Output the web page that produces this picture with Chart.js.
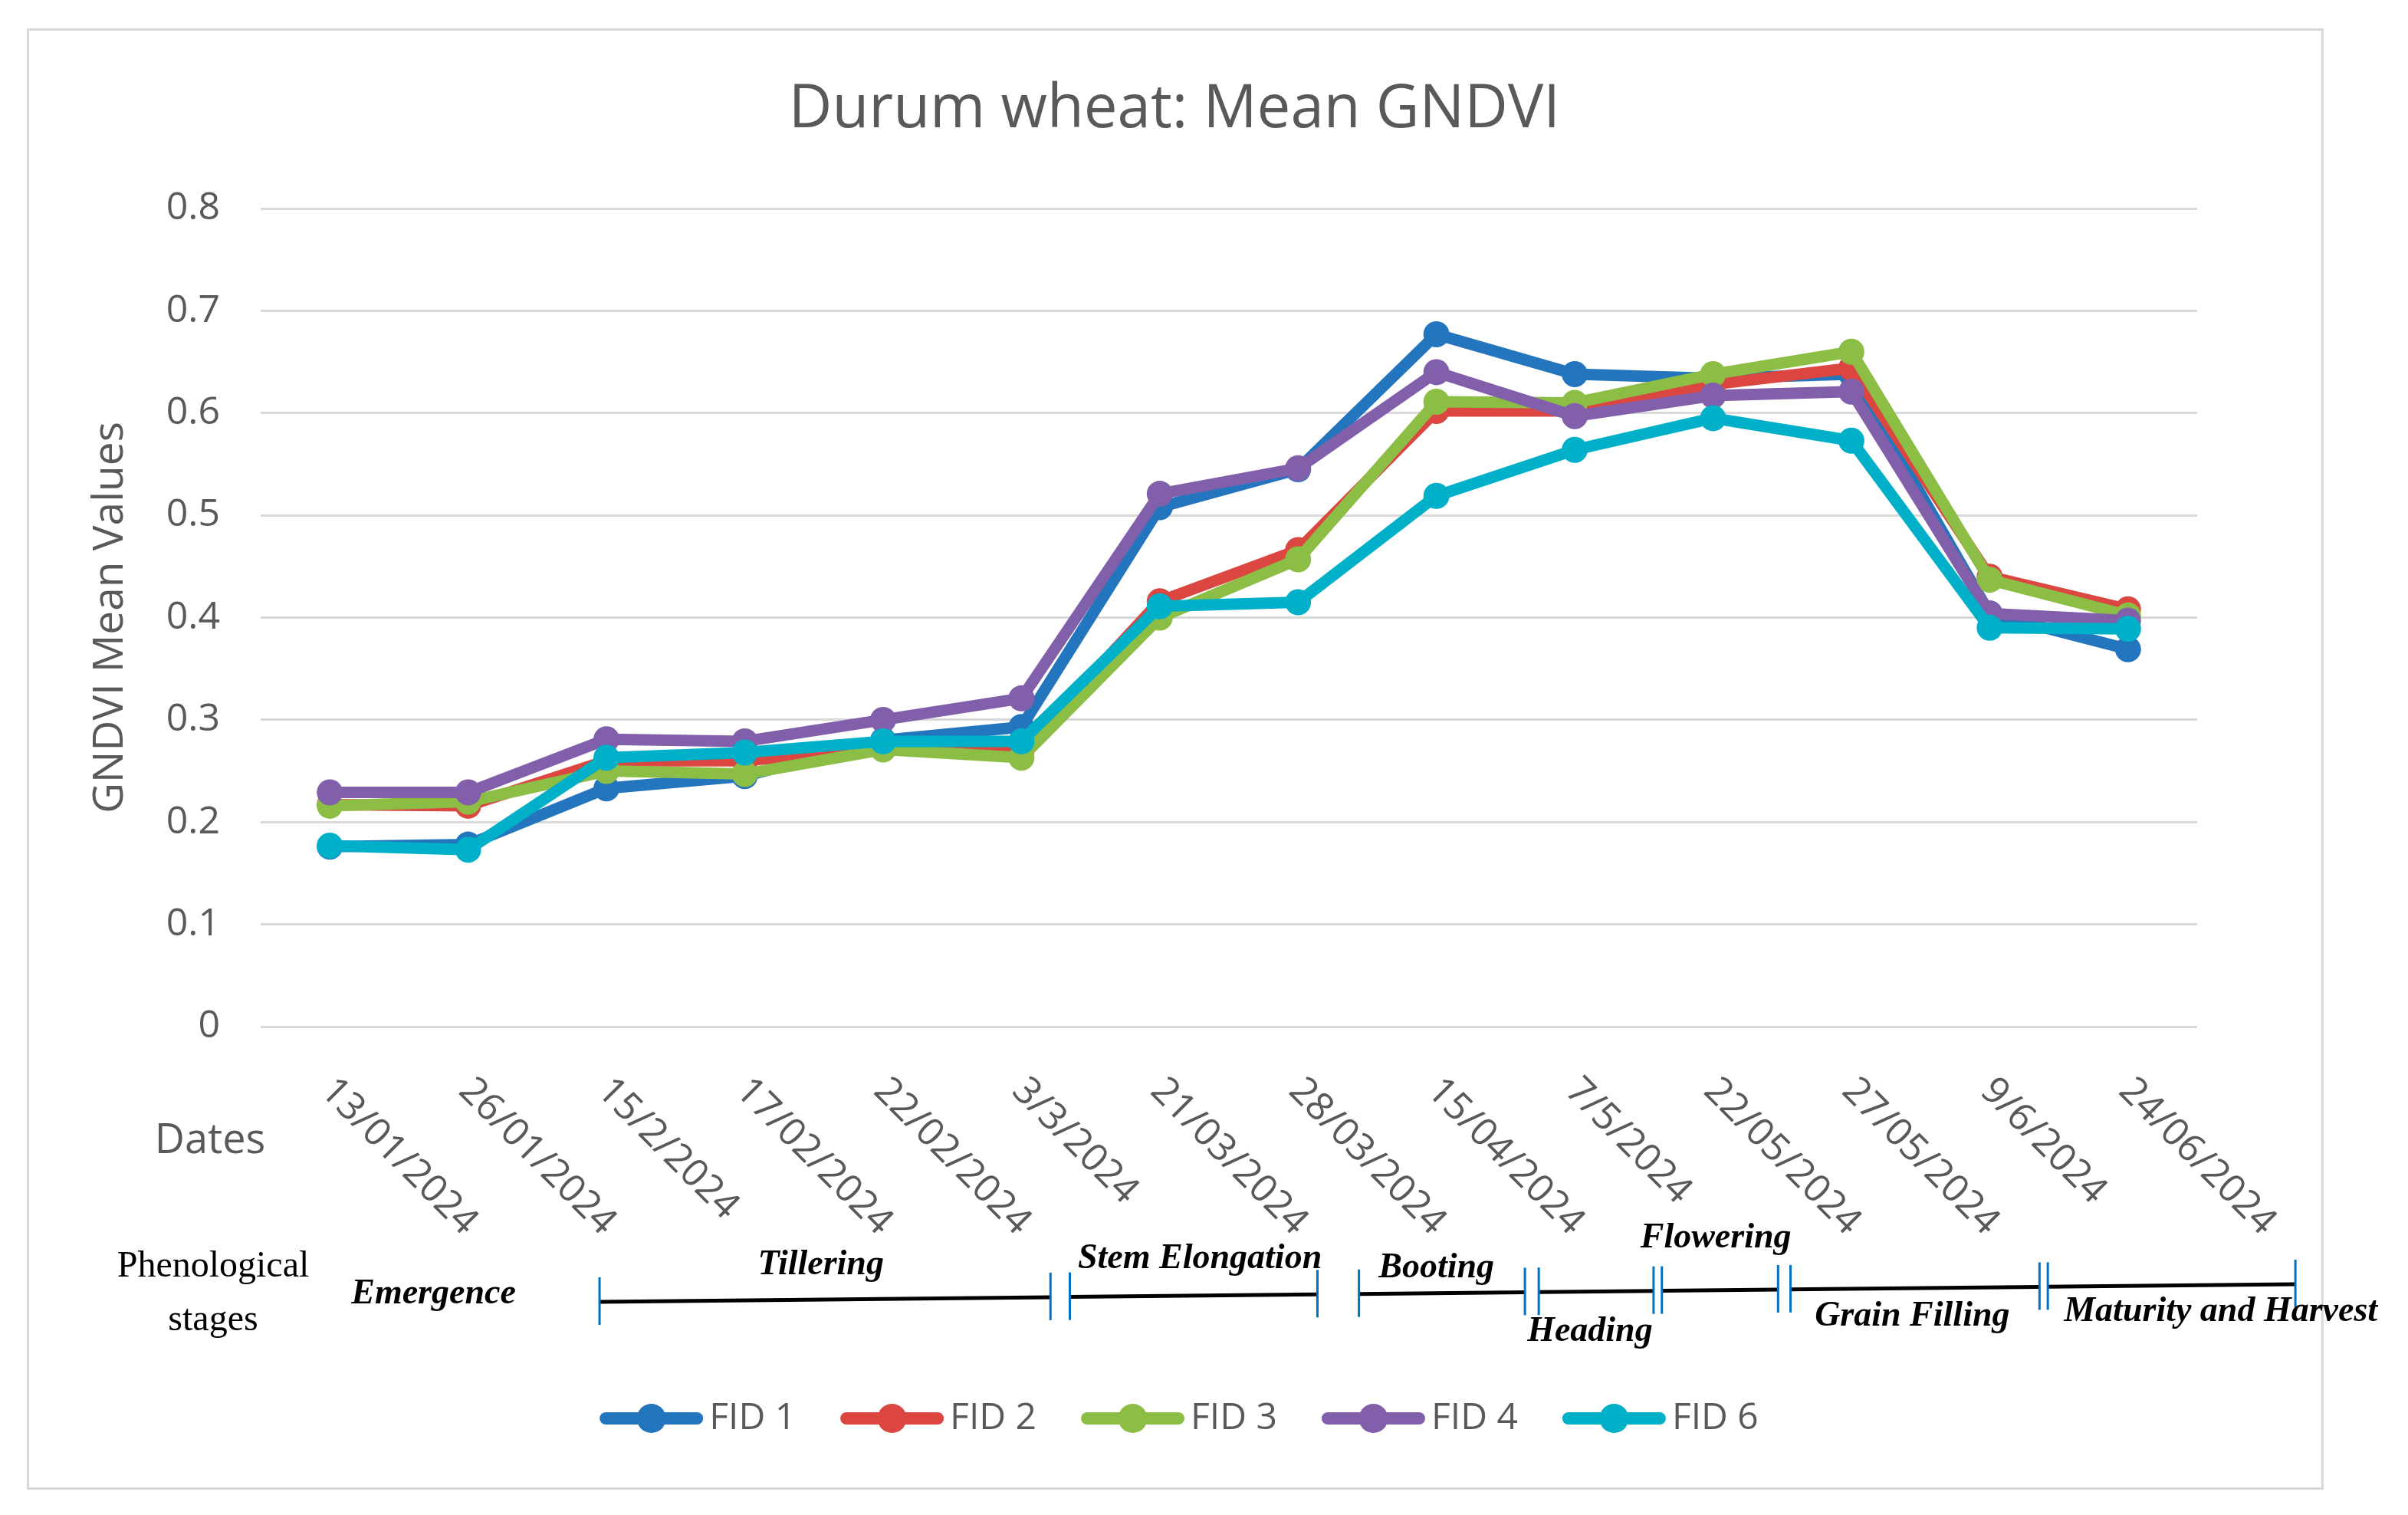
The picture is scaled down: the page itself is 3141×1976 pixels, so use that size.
<!DOCTYPE html>
<html>
<head>
<meta charset="utf-8">
<title>Durum wheat: Mean GNDVI</title>
<script src="https://cdn.jsdelivr.net/npm/chart.js@4.4.1/dist/chart.umd.min.js"></script>
<style>
    html, body { margin: 0; padding: 0; background: #fff; overflow: hidden; }
    canvas { display: block; }
</style>
</head>
<body>
<canvas id="gndviChart" width="3141" height="1976"></canvas>
<script>
// Dates of the drone flights
const dates = ['13/01/2024', '26/01/2024', '15/2/2024', '17/02/2024', '22/02/2024', '3/3/2024', '21/03/2024',
    '28/03/2024', '15/04/2024', '7/5/2024', '22/05/2024', '27/05/2024', '9/6/2024', '24/06/2024'];

// Mean GNDVI per field
const fid1 = [0.176, 0.178, 0.233, 0.245, 0.280, 0.293, 0.508, 0.545, 0.677, 0.638, 0.634, 0.638, 0.404, 0.369];
const fid2 = [0.217, 0.216, 0.260, 0.260, 0.273, 0.270, 0.416, 0.466, 0.602, 0.602, 0.628, 0.644, 0.440, 0.408];
const fid3 = [0.216, 0.220, 0.250, 0.247, 0.271, 0.263, 0.400, 0.457, 0.611, 0.610, 0.638, 0.660, 0.437, 0.402];
const fid4 = [0.229, 0.229, 0.281, 0.279, 0.300, 0.321, 0.521, 0.546, 0.640, 0.597, 0.617, 0.621, 0.404, 0.397];
const fid6 = [0.177, 0.173, 0.263, 0.268, 0.279, 0.279, 0.411, 0.415, 0.519, 0.564, 0.595, 0.573, 0.390, 0.389];

const seriesNames = ['FID 1', 'FID 2', 'FID 3', 'FID 4', 'FID 6'];
const seriesData = [fid1, fid2, fid3, fid4, fid6];

const yTicks = [0, 0.1, 0.2, 0.3, 0.4, 0.5, 0.6, 0.7, 0.8];

// Phenological stages, start / end given in date-index units
const stageNames = ['Emergence', 'Tillering', 'Stem Elongation', 'Booting', 'Heading', 'Flowering', 'Grain Filling', 'Maturity and Harvest'];
const stageStart = [null, 1.95, 5.35, 7.44, 8.74, 9.63, 10.56, 12.42];
const stageEnd = [null, 5.21, 7.14, 8.64, 9.57, 10.47, 12.36, 14.21];

const colors = ['#2376be', '#dc4641', '#8cbe46', '#825faa', '#00b0c8'];
const GRAY = '#595959';

document.addEventListener('DOMContentLoaded', function() {
    inicializarGrafico();
});

function drawTitle(chart) {
    const ctx = chart.ctx;
    ctx.font = '78px "Open Sans"';
    ctx.fillStyle = GRAY;
    ctx.textAlign = 'center';
    ctx.textBaseline = 'middle';
    ctx.fillText('Durum wheat: Mean GNDVI', 1532, 144);
}

function drawDateLabels(chart) {
    const ctx = chart.ctx;
    const xs = chart.scales.x;
    const bottom = chart.chartArea.bottom;
    ctx.font = '50px "Open Sans"';
    ctx.fillStyle = GRAY;
    ctx.textAlign = 'left';
    ctx.textBaseline = 'middle';
    dates.forEach((d, i) => {
        ctx.save();
        ctx.translate(xs.getPixelForValue(i) - 4, bottom + 76);
        ctx.rotate(Math.PI / 4);
        ctx.fillText(d, 0, 0);
        ctx.restore();
    });
    ctx.font = '54px "Open Sans"';
    ctx.textAlign = 'center';
    ctx.fillText('Dates', 274, bottom + 150);
}

function drawStages(chart) {
    const ctx = chart.ctx;
    const xs = chart.scales.x;
    const bottom = chart.chartArea.bottom;
    const x0 = xs.getPixelForValue(stageStart[1]);
    // the hand drawn line rises slightly to the right
    const lineY = px => bottom + 359 - (px - x0) * 0.0104;
    // label position (date index) and offset from the line
    const labelAt = [0.75, 3.55, 6.29, 8.0, 9.11, 10.02, 11.44, 13.67];
    const labelDy = [-12, -45, -48, -33, 53, -68, 37, 35];

    ctx.font = '48px "Liberation Serif"';
    ctx.fillStyle = '#000';
    ctx.textAlign = 'center';
    ctx.textBaseline = 'middle';
    ctx.fillText('Phenological', 278, bottom + 313);
    ctx.fillText('stages', 278, bottom + 383);

    stageNames.forEach((name, i) => {
        if (stageStart[i] !== null) {
            const a = xs.getPixelForValue(stageStart[i]);
            const b = xs.getPixelForValue(stageEnd[i]);
            ctx.strokeStyle = '#000';
            ctx.lineWidth = 5;
            ctx.beginPath();
            ctx.moveTo(a, lineY(a));
            ctx.lineTo(b, lineY(b));
            ctx.stroke();
            ctx.strokeStyle = '#0070c0';
            ctx.lineWidth = 3;
            [a, b].forEach(px => {
                ctx.beginPath();
                ctx.moveTo(px, lineY(px) - 32);
                ctx.lineTo(px, lineY(px) + 30);
                ctx.stroke();
            });
        }
        const lx = xs.getPixelForValue(labelAt[i]);
        ctx.font = 'italic bold 46px "Liberation Serif"';
        ctx.fillStyle = '#000';
        ctx.fillText(name, lx, lineY(lx) + labelDy[i]);
    });
}

function drawLegend(chart) {
    const ctx = chart.ctx;
    const y = chart.chartArea.bottom + 511;
    const lineLen = 135, gapText = 8, gapItem = 58;
    ctx.font = '48px "Open Sans"';
    const items = chart.data.datasets.map(ds => ({ ds: ds, w: ctx.measureText(ds.label).width }));
    const total = items.reduce((s, it) => s + lineLen + gapText + it.w, 0) + gapItem * (items.length - 1);
    let x = 1538 - total / 2;
    items.forEach(({ ds, w }) => {
        ctx.strokeStyle = ds.borderColor;
        ctx.lineWidth = 16;
        ctx.lineCap = 'round';
        ctx.beginPath();
        ctx.moveTo(x + 8, y);
        ctx.lineTo(x + lineLen - 8, y);
        ctx.stroke();
        ctx.fillStyle = ds.borderColor;
        ctx.beginPath();
        ctx.arc(x + lineLen / 2, y, 19, 0, Math.PI * 2);
        ctx.fill();
        ctx.fillStyle = GRAY;
        ctx.textAlign = 'left';
        ctx.textBaseline = 'middle';
        ctx.fillText(ds.label, x + lineLen + gapText, y);
        x += lineLen + gapText + w + gapItem;
    });
}

const extras = {
    id: 'extras',
    beforeDraw(chart) {
        const ctx = chart.ctx;
        ctx.save();
        ctx.fillStyle = '#fff';
        ctx.fillRect(0, 0, chart.width, chart.height);
        ctx.strokeStyle = '#d9d9d9';
        ctx.lineWidth = 3;
        ctx.strokeRect(36.5, 38.5, 2993, 1903);
        ctx.restore();
    },
    afterDraw(chart) {
        const ctx = chart.ctx;
        ctx.save();
        drawTitle(chart);
        drawDateLabels(chart);
        drawStages(chart);
        drawLegend(chart);
        ctx.restore();
    }
};

function inicializarGrafico() {
    const ctx = document.getElementById('gndviChart').getContext('2d');

    new Chart(ctx, {
        type: 'line',
        data: {
            labels: dates,
            datasets: seriesNames.map((name, i) => ({
                label: name,
                data: seriesData[i],
                borderColor: colors[i],
                backgroundColor: colors[i],
                order: seriesNames.length - i
            }))
        },
        options: {
            responsive: false,
            animation: false,
            devicePixelRatio: 1,
            layout: {
                padding: { top: 272, right: 275, bottom: 637, left: 0 }
            },
            elements: {
                line: { borderWidth: 15, tension: 0, borderJoinStyle: 'round', borderCapStyle: 'round' },
                point: { radius: 17, hoverRadius: 17, borderWidth: 0 }
            },
            plugins: {
                legend: { display: false },
                title: { display: false },
                tooltip: { enabled: false }
            },
            scales: {
                x: {
                    offset: true,
                    grid: { display: false },
                    border: { display: false },
                    ticks: { display: false },
                    afterFit: s => { s.height = 0; }
                },
                y: {
                    min: 0,
                    max: 0.8,
                    afterBuildTicks: s => { s.ticks = yTicks.map(v => ({ value: v })); },
                    afterFit: s => { s.width = 340; },
                    grid: { color: '#d9d9d9', lineWidth: 3, drawTicks: false },
                    border: { display: false },
                    ticks: {
                        padding: 53,
                        color: GRAY,
                        font: { family: 'Open Sans', size: 50 },
                        callback: v => String(Number(v.toFixed(1)))
                    },
                    title: {
                        display: true,
                        text: 'GNDVI Mean Values',
                        color: GRAY,
                        font: { family: 'Open Sans', size: 55 },
                        padding: { top: 111, bottom: 0 }
                    }
                }
            }
        },
        plugins: [extras]
    });
}
</script>
</body>
</html>
